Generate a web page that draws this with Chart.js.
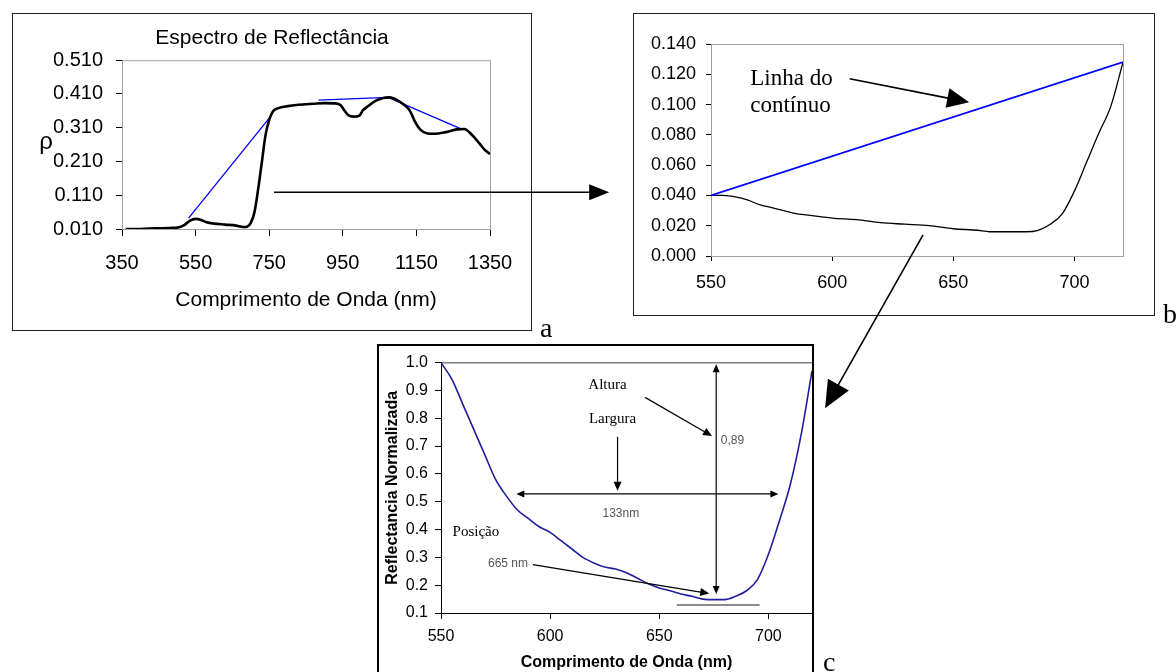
<!DOCTYPE html>
<html>
<head>
<meta charset="utf-8">
<script src="https://cdn.jsdelivr.net/npm/chart.js@4.4.1/dist/chart.umd.min.js"></script>
<style>
  body { margin: 0; background: #fff; }
  #page { position: relative; width: 1176px; height: 672px; overflow: hidden; background: #fff; }
  .box { position: absolute; box-sizing: border-box; background: #fff; }
  #boxA { left: 12px; top: 13px; width: 520px; height: 318px; border: 1px solid #222; }
  #boxB { left: 633px; top: 13px; width: 522px; height: 303px; border: 1px solid #222; }
  #boxC { left: 377px; top: 344px; width: 437px; height: 345px; border: 2px solid #000; }
  .box canvas { position: absolute; left: 0; top: 0; }
  #overlay { position: absolute; left: 0; top: 0; pointer-events: none; }
</style>
</head>
<body>
<div id="page">
  <div class="box" id="boxA"><canvas id="chartA" width="518" height="316"></canvas></div>
  <div class="box" id="boxB"><canvas id="chartB" width="520" height="301"></canvas></div>
  <div class="box" id="boxC"><canvas id="chartC" width="433" height="326"></canvas></div>
  <canvas id="overlay" width="1176" height="672"></canvas>
</div>
<script>
// (a) full reflectance spectrum
const waveA = [360, 400, 440, 480, 505, 520, 535, 550, 565, 580, 600, 630, 660, 680, 690, 700, 710, 720, 730, 740,
  750, 760, 775, 800, 830, 870, 900, 930, 945, 955, 965, 980, 995, 1005, 1020, 1040, 1060, 1075, 1090, 1105,
  1125, 1135, 1145, 1160, 1180, 1200, 1230, 1260, 1280, 1300, 1320, 1335, 1350];
const reflA = [0.010, 0.010, 0.012, 0.013, 0.015, 0.022, 0.035, 0.040, 0.037, 0.030, 0.026, 0.023, 0.020, 0.016, 0.017, 0.028, 0.060, 0.128, 0.208, 0.288,
  0.333, 0.358, 0.368, 0.374, 0.378, 0.381, 0.383, 0.382, 0.376, 0.360, 0.347, 0.343, 0.346, 0.362, 0.375, 0.390, 0.398, 0.400, 0.396, 0.387,
  0.370, 0.355, 0.330, 0.305, 0.293, 0.292, 0.297, 0.305, 0.306, 0.290, 0.265, 0.245, 0.232];
// continuum hull pieces
const hull1Wave = [531, 755];
const hull1Refl = [0.042, 0.345];
const hull2Wave = [884, 1073, 1273];
const hull2Refl = [0.392, 0.400, 0.306];

// (b) 550-720 nm detail
const waveB = [550, 555, 560, 565, 570, 575, 580, 585, 590, 595, 600, 610, 620, 630, 640, 650, 660, 665, 670, 675,
  680, 685, 690, 695, 700, 705, 710, 715, 720];
const reflB = [0.040, 0.040, 0.039, 0.037, 0.034, 0.032, 0.030, 0.028, 0.027, 0.026, 0.025, 0.024, 0.022, 0.021, 0.020, 0.018, 0.017, 0.016, 0.016, 0.016,
  0.016, 0.017, 0.021, 0.028, 0.043, 0.062, 0.081, 0.099, 0.128];
const contWaveB = [550, 720];
const contReflB = [0.040, 0.128];

// (c) continuum-removed
const waveC = [550, 555, 560, 565, 570, 575, 580, 585, 590, 595, 600, 605, 610, 615, 620, 625, 630, 635, 640, 645,
  650, 655, 660, 665, 670, 675, 680, 685, 690, 695, 700, 705, 710, 715, 720];
const normC = [1.00, 0.94, 0.85, 0.76, 0.67, 0.58, 0.52, 0.47, 0.44, 0.41, 0.39, 0.36, 0.33, 0.30, 0.28, 0.265, 0.258, 0.245, 0.225, 0.205,
  0.19, 0.18, 0.168, 0.16, 0.15, 0.148, 0.148, 0.16, 0.18, 0.22, 0.31, 0.43, 0.56, 0.74, 0.97];
const topWaveC = [550, 720];
const topNormC = [1.0, 1.0];
const baseWaveC = [658, 696];
const baseNormC = [0.129, 0.129];

const pts = (xs, ys) => xs.map((x, i) => ({ x: x, y: ys[i] }));

Chart.defaults.font.family = "'Liberation Sans', Arial, sans-serif";
Chart.defaults.color = '#000';

function drawArrow(ctx, x1, y1, x2, y2, o) {
  const a = Math.atan2(y2 - y1, x2 - x1);
  const len = o.head || 8, hw = o.headW || 4;
  const c = Math.cos(a), s = Math.sin(a);
  ctx.strokeStyle = o.color || '#000';
  ctx.fillStyle = o.color || '#000';
  ctx.lineWidth = o.width || 1;
  const head = (px, py, cc, ss) => {
    ctx.beginPath();
    ctx.moveTo(px, py);
    ctx.lineTo(px - len * cc + hw * ss, py - len * ss - hw * cc);
    ctx.lineTo(px - len * cc - hw * ss, py - len * ss + hw * cc);
    ctx.closePath();
    ctx.fill();
  };
  ctx.beginPath();
  if (o.double) ctx.moveTo(x1 + len * 0.8 * c, y1 + len * 0.8 * s); else ctx.moveTo(x1, y1);
  ctx.lineTo(x2 - len * 0.8 * c, y2 - len * 0.8 * s);
  ctx.stroke();
  head(x2, y2, c, s);
  if (o.double) head(x1, y1, -c, -s);
}

const notesPlugin = {
  id: 'notes',
  beforeDatasetsDraw(chart, args, opts) {
    if (!opts.frame) return;
    const { ctx, chartArea: ca } = chart;
    ctx.save();
    ctx.strokeStyle = opts.frame;
    ctx.lineWidth = 1;
    ctx.strokeRect(ca.left + 0.5, ca.top + 0.5, ca.right - ca.left, ca.bottom - ca.top);
    ctx.restore();
  },
  afterDatasetsDraw(chart, args, opts) {
    const { ctx, scales: { x, y } } = chart;
    ctx.save();
    (opts.arrows || []).forEach(a => {
      drawArrow(ctx, x.getPixelForValue(a.from[0]), y.getPixelForValue(a.from[1]),
        x.getPixelForValue(a.to[0]), y.getPixelForValue(a.to[1]), a);
    });
    (opts.texts || []).forEach(t => {
      ctx.font = t.font;
      ctx.fillStyle = t.color || '#000';
      ctx.textAlign = t.align || 'center';
      ctx.textBaseline = 'middle';
      ctx.fillText(t.text, x.getPixelForValue(t.at[0]), y.getPixelForValue(t.at[1]));
    });
    // upright axis symbol, placed left of the y tick labels
    if (opts.yLabel) {
      ctx.font = opts.yLabel.font;
      ctx.fillStyle = '#000';
      ctx.textAlign = 'center';
      ctx.textBaseline = 'middle';
      ctx.fillText(opts.yLabel.text, opts.yLabel.x, (chart.chartArea.top + chart.chartArea.bottom) / 2 - 2);
    }
    ctx.restore();
  }
};

const axisGrid = len => ({ drawOnChartArea: false, tickLength: len, color: '#000' });
const only = step => s => { s.ticks = s.ticks.filter(t => Math.abs(t.value / step - Math.round(t.value / step)) < 1e-6); };

// ---------- a ----------
const chartA = new Chart(document.getElementById('chartA'), {
  type: 'line',
  data: {
    datasets: [
      { data: pts(waveA, reflA), borderColor: '#000', borderWidth: 2.6, pointRadius: 0, cubicInterpolationMode: 'monotone' },
      { data: pts(hull1Wave, hull1Refl), borderColor: '#0000ff', borderWidth: 1.3, pointRadius: 0 },
      { data: pts(hull2Wave, hull2Refl), borderColor: '#0000ff', borderWidth: 1.3, pointRadius: 0 }
    ]
  },
  options: {
    responsive: false, animation: false, devicePixelRatio: 1,
    layout: { padding: { left: 41, right: 41, top: 0, bottom: 0 } },
    plugins: {
      legend: { display: false }, tooltip: { enabled: false },
      title: { display: true, text: 'Espectro de Reflectância', color: '#000', font: { size: 21, weight: 'normal' }, padding: { top: 12, bottom: 9 } },
      notes: { frame: '#a0a0a0', yLabel: { text: 'ρ', x: 33, font: "24px 'Liberation Sans', Arial, sans-serif" } }
    },
    scales: {
      x: {
        type: 'linear', min: 350, max: 1350,
        afterFit: s => { s.height = 101; },
        ticks: { stepSize: 200, padding: 15, font: { size: 20 }, maxRotation: 0, callback: v => String(v) },
        grid: axisGrid(7), border: { color: '#000' },
        title: { display: true, text: 'Comprimento de Onda (nm)', font: { size: 21 }, padding: { top: 0, bottom: 17 } }
      },
      y: {
        min: 0.01, max: 0.51,
        afterFit: s => { s.width = 68; },
        ticks: { stepSize: 0.1, padding: 13, font: { size: 20 }, callback: v => v.toFixed(3) },
        grid: axisGrid(6), border: { color: '#000' }
      }
    }
  },
  plugins: [notesPlugin]
});

// ---------- b ----------
const chartB = new Chart(document.getElementById('chartB'), {
  type: 'line',
  data: {
    datasets: [
      { data: pts(contWaveB, contReflB), borderColor: '#0000ff', borderWidth: 1.8, pointRadius: 0 },
      { data: pts(waveB, reflB), borderColor: '#000', borderWidth: 1.3, pointRadius: 0, cubicInterpolationMode: 'monotone' }
    ]
  },
  options: {
    responsive: false, animation: false, devicePixelRatio: 1,
    layout: { padding: { left: 0, right: 31, top: 30, bottom: 0 } },
    plugins: {
      legend: { display: false }, tooltip: { enabled: false },
      notes: {
        frame: '#a0a0a0',
        texts: [
          { text: 'Linha do', at: [566.2, 0.117], align: 'left', font: "23px 'Liberation Serif', 'Times New Roman', serif" },
          { text: 'contínuo', at: [566.2, 0.099], align: 'left', font: "23px 'Liberation Serif', 'Times New Roman', serif" }
        ],
        arrows: [
          { from: [607.2, 0.117], to: [656.5, 0.1015], width: 1.6, head: 22, headW: 10 }
        ]
      }
    },
    scales: {
      x: {
        type: 'linear', min: 550, max: 720,
        afterBuildTicks: only(50),
        afterFit: s => { s.height = 59; },
        ticks: { stepSize: 50, padding: 11, font: { size: 18 }, maxRotation: 0 },
        grid: axisGrid(5), border: { color: '#000' }
      },
      y: {
        min: 0, max: 0.14,
        afterFit: s => { s.width = 77; },
        ticks: { stepSize: 0.02, padding: 10, font: { size: 18 }, callback: v => v.toFixed(3) },
        grid: axisGrid(5), border: { color: '#000' }
      }
    }
  },
  plugins: [notesPlugin]
});

// ---------- c ----------
const serif15 = "15px 'Liberation Serif', 'Times New Roman', serif";
const sans12 = "12px 'Liberation Sans', Arial, sans-serif";
const chartC = new Chart(document.getElementById('chartC'), {
  type: 'line',
  data: {
    datasets: [
      { data: pts(topWaveC, topNormC), borderColor: '#000', borderWidth: 1.2, pointRadius: 0 },
      { data: pts(baseWaveC, baseNormC), borderColor: '#8c8c8c', borderWidth: 2, pointRadius: 0 },
      { data: pts(waveC, normC), borderColor: '#1f1f9e', borderWidth: 1.6, pointRadius: 0, cubicInterpolationMode: 'monotone' }
    ]
  },
  options: {
    responsive: false, animation: false, devicePixelRatio: 1,
    layout: { padding: { left: 0, right: 0, top: 9, bottom: 0 } },
    plugins: {
      legend: { display: false }, tooltip: { enabled: false },
      notes: {
        texts: [
          { text: 'Altura', at: [626.3, 0.919], font: serif15 },
          { text: 'Largura', at: [628.6, 0.797], font: serif15 },
          { text: 'Posição', at: [566.0, 0.390], font: serif15 },
          { text: '0,89', at: [678.2, 0.721], align: 'left', font: sans12, color: '#555' },
          { text: '133nm', at: [632.4, 0.456], font: sans12, color: '#555' },
          { text: '665 nm', at: [580.7, 0.278], font: sans12, color: '#555' }
        ],
        arrows: [
          { from: [643.5, 0.875], to: [674.2, 0.736], width: 1.2, head: 9, headW: 4 },
          { from: [630.9, 0.733], to: [630.9, 0.539], width: 1.2, head: 9, headW: 4 },
          { from: [676.1, 0.994], to: [676.1, 0.168], width: 1.2, head: 8, headW: 3.5, double: true },
          { from: [584.5, 0.528], to: [704.6, 0.528], width: 1.2, head: 8, headW: 3.5, double: true },
          { from: [592.1, 0.274], to: [672.9, 0.170], width: 1.2, head: 9, headW: 4 }
        ]
      }
    },
    scales: {
      x: {
        type: 'linear', min: 550, max: 720,
        afterBuildTicks: only(50),
        afterFit: s => { s.height = 59; },
        ticks: { stepSize: 50, padding: 8, font: { size: 16 }, maxRotation: 0 },
        grid: axisGrid(6), border: { color: '#000' },
        title: { display: true, text: 'Comprimento de Onda (nm)', font: { size: 16, weight: 'bold' }, padding: { top: 0, bottom: 0 } }
      },
      y: {
        min: 0.1, max: 1.0,
        afterFit: s => { s.width = 62; },
        ticks: { stepSize: 0.1, padding: 7, font: { size: 16 }, callback: v => v.toFixed(1) },
        grid: axisGrid(6), border: { color: '#000' },
        title: { display: true, text: 'Reflectancia Normalizada', font: { size: 16, weight: 'bold' }, padding: { top: 4, bottom: 0 } }
      }
    }
  },
  plugins: [notesPlugin]
});

// ---------- connecting arrows and panel letters ----------
const page = document.getElementById('page').getBoundingClientRect();
function pagePoint(chart, xv, yv) {
  const r = chart.canvas.getBoundingClientRect();
  return [r.left - page.left + chart.scales.x.getPixelForValue(xv), r.top - page.top + chart.scales.y.getPixelForValue(yv)];
}
const ov = document.getElementById('overlay').getContext('2d');
const aStart = pagePoint(chartA, 763, 0.119);
const aEnd = pagePoint(chartB, 508, 0.0425);
drawArrow(ov, aStart[0], aStart[1], aEnd[0], aStart[1], { width: 1.6, head: 20, headW: 8 });
const bStart = pagePoint(chartB, 637.5, 0.014);
const bEnd = pagePoint(chartC, 726, 0.836);
drawArrow(ov, bStart[0], bStart[1], bEnd[0], bEnd[1], { width: 1.6, head: 27, headW: 12 });

ov.fillStyle = '#000';
ov.font = "28px 'Liberation Serif', 'Times New Roman', serif";
ov.textBaseline = 'alphabetic';
ov.textAlign = 'left';
ov.fillText('a', 540, 337);
ov.fillText('b', 1163, 323);
ov.fillText('c', 823, 671);
</script>
</body>
</html>
